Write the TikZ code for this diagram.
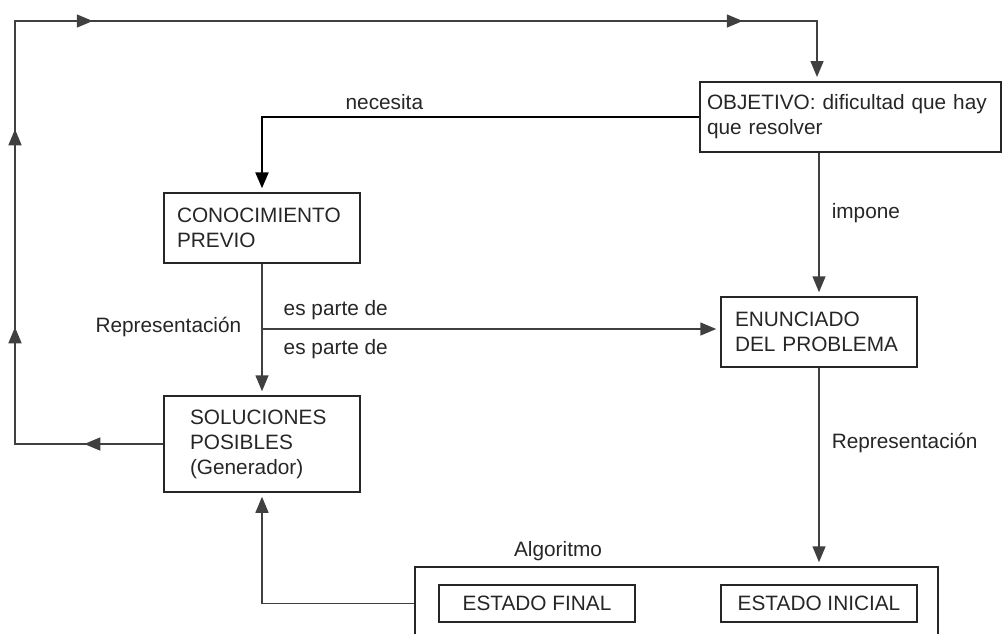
\documentclass[tikz,border=0pt]{standalone}
\usepackage{fontspec}
\setmainfont{Liberation Sans}
\usetikzlibrary{arrows.meta,decorations.markings}

\tikzset{
  box/.style={draw=black!85, line width=0.75pt, align=left, inner ysep=2pt},
  lbl/.style={inner sep=3pt},
  link/.style={draw=black!75, line width=0.75pt, shorten >=2pt, -{Triangle[length=8pt,width=6.5pt]}},
  vuelta/.style={link, postaction={decorate}, decoration={markings,
    mark=at position 39.5pt with {\arrow{Triangle[length=8pt,width=6.5pt]}},
    mark=at position 132.5pt with {\arrow{Triangle[length=8pt,width=6.5pt]}},
    mark=at position 231.5pt with {\arrow{Triangle[length=8pt,width=6.5pt]}},
    mark=at position 324.5pt with {\arrow{Triangle[length=8pt,width=6.5pt]}},
    mark=at position 649.5pt with {\arrow{Triangle[length=8pt,width=6.5pt]}}}}
}

\begin{document}
\begin{tikzpicture}
[ x=0.5pt, y=-0.5pt
, every node/.style={font=\fontsize{10.4}{12.5}\selectfont, text=black!85}
]

\useasboundingbox (0,0) rectangle (1004,633);
\clip (0,0) rectangle (1004,633);

\node[box, inner xsep=6.5pt, text width=85pt, minimum height=35pt] (conoc) at (262,228) {CONOCIMIENTO\\PREVIO};

\node[box, below of=conoc, node distance=108pt, inner xsep=13pt, text width=72pt, minimum height=48pt] (sol) {SOLUCIONES\\POSIBLES\\(Generador)};

\node[box, right of=conoc, node distance=294.25pt, yshift=55.5pt, line width=1pt, inner xsep=3.5pt, text width=143.5pt, minimum height=35pt] (objetivo) {OBJETIVO: dificultad que hay\\que resolver};

\node[box, below of=objetivo, node distance=107.5pt, xshift=-15.75pt, inner xsep=7pt, text width=84pt, minimum height=35pt] (enun) {ENUNCIADO\\DEL PROBLEMA};

\node[box, below of=enun, node distance=135.75pt, align=center, minimum width=98pt, minimum height=18.5pt, inner ysep=0pt] (einicial) {ESTADO INICIAL};
\node[box, left of=einicial, node distance=141pt, align=center, minimum width=98pt, minimum height=18.5pt, inner ysep=0pt] (efinal) {ESTADO FINAL};

\node[box, right of=efinal, node distance=69.75pt, yshift=-5pt, minimum width=261.5pt, minimum height=46.5pt] (algo) {};
\node[lbl] (lalgo) at (558,551) {Algoritmo};

\coordinate (rama) at (262,329);
\coordinate (esquina) at (15,21);
\coordinate (arriba) at (817,21);

\draw[link, line width=1.2pt, draw=black] (objetivo.west) -| node[lbl, above, pos=0.36] (lnec) {necesita} (conoc.north);
\draw[link] (enun.north |- objetivo.south) -- node[lbl, right=3pt, pos=0.42] (limp) {impone} (enun.north);
\draw[link] (conoc) -- node[lbl, left=7pt, pos=0.48] (lrep1) {Representación} (sol);
\draw[link] (rama) -- node[lbl, above=1pt, pos=0.161] (lparte1) {es parte de}
                      node[lbl, below=2pt, pos=0.161] (lparte2) {es parte de} (rama -| enun.west);
\draw[link] (enun) -- node[lbl, right=3pt, pos=0.38] (lrep2) {Representación} (enun.south |- algo.north);
\draw[link] (algo.west |- efinal) -| (sol.south);
\draw[vuelta] (sol.west) -| (esquina) -- (arriba) -- (arriba |- objetivo.north);

\end{tikzpicture}
\end{document}
